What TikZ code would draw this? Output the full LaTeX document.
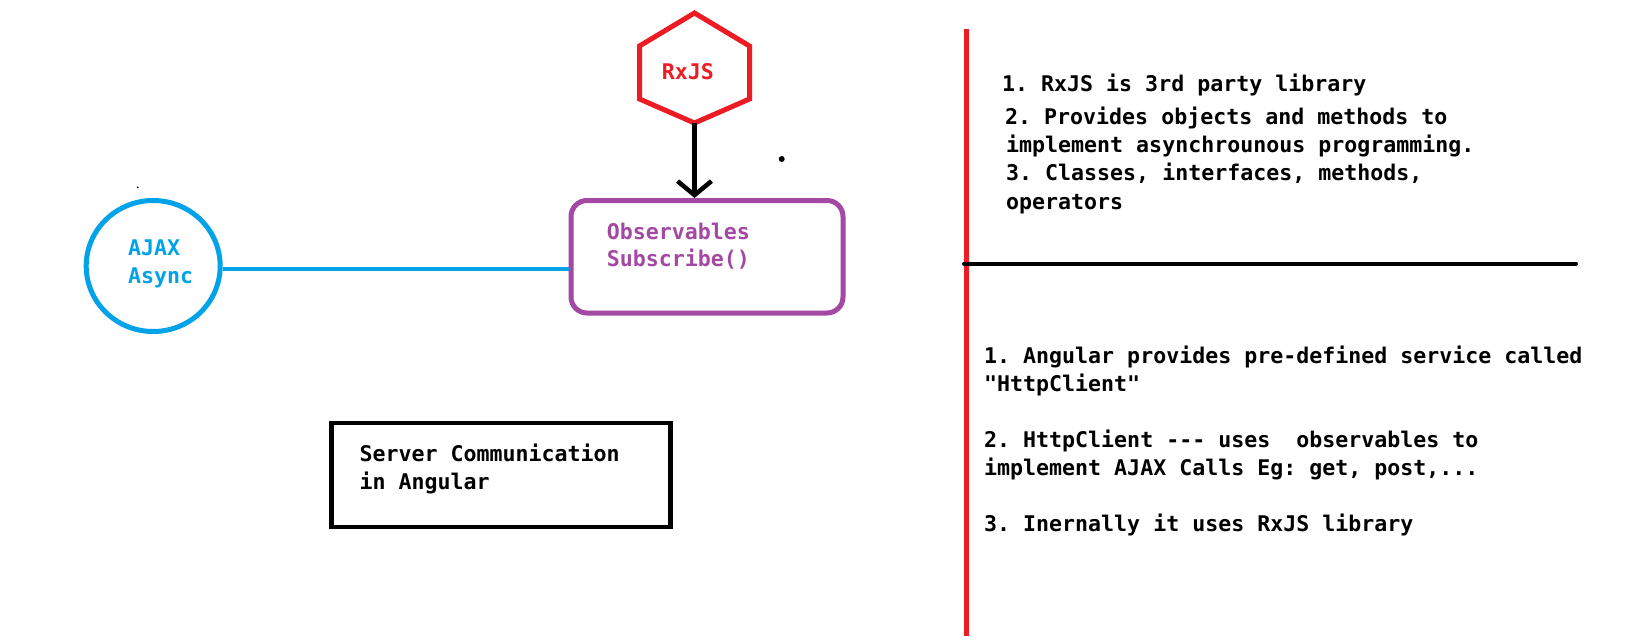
\documentclass[tikz,border=0pt]{standalone}
\usepackage{fontspec}
\newfontfamily\monof{DejaVu Sans Mono}
\usetikzlibrary{arrows.meta,shapes.geometric}
\definecolor{rxred}{RGB}{237,28,36}
\definecolor{ajaxblue}{RGB}{0,162,232}
\definecolor{obspurple}{RGB}{163,73,164}
\frenchspacing
\begin{document}
\begin{tikzpicture}[x=1pt,y=-1pt,
  txt/.style={anchor=base west, inner sep=0pt, font=\monof\bfseries\fontsize{21.6}{28}\selectfont},
  hexline/.style={draw=rxred, line width=5pt, line join=miter},
  ajaxshape/.style={ellipse, draw=ajaxblue, line width=5pt, inner sep=0pt},
  obsbox/.style={draw=obspurple, line width=5pt, rounded corners=16pt, inner sep=0pt},
  srvbox/.style={draw=black, line width=4.5pt, inner sep=0pt},
  link/.style={ajaxblue, line width=4.5pt},
  arrowline/.style={black, line width=4.5pt, -{Straight Barb[length=14pt,width=34pt]}},
  divred/.style={rxred, line width=5pt},
  divblack/.style={black, line width=4pt, line cap=round}]
\useasboundingbox[fill=white] (0,0) rectangle (1630,642);

% hexagon
\draw[hexline] (694.5,13) -- (749.5,46) -- (749.5,99) -- (694.5,123) coordinate (hexb)
  -- (639.5,99) -- (639.5,46) -- cycle;
\node[txt, text=rxred] (rxt) at (661.7,80) {RxJS};

% observables box
\node[obsbox, minimum width=272pt, minimum height=112.5pt] (obs) at (707,256.75) {};
\node[txt, text=obspurple] (o1) at (606.7,239.3) {Observables};
\node[txt, text=obspurple] (o2) at (606.7,266.7) {Subscribe()};

% arrow
\draw[arrowline] (hexb) -- (obs.north -| hexb);

% ajax ellipse
\node[ajaxshape, minimum width=134pt, minimum height=131pt] (ajax) at (153.2,266) {};
\node[txt, text=ajaxblue] (a1) at (128,255) {AJAX};
\node[txt, text=ajaxblue] (a2) at (128,283.3) {Async};
\coordinate (ly) at (0,269);
\draw[link] (ajax.east |- ly) -- (obs.west |- ly);

% server box
\node[srvbox, minimum width=338.8pt, minimum height=104pt] (srv) at (501.1,475) {};
\node[txt] (s1) at (359.3,461) {Server Communication};
\node[txt] (s2) at (359.3,489.3) {in Angular};

% dots
\fill (781.7,159) circle (3pt);
\fill (137.7,187.3) circle (1pt);

% dividers
\coordinate (rt) at (966.5,29);
\coordinate (rb) at (966.5,636);
\draw[divred] (rt) -- (rb);
\coordinate (bl) at (964,263.5);
\coordinate (br) at (1576,263.5);
\draw[divblack] (bl) -- (br);

% upper text
\node[txt] (u1) at (1002,91.5) {1. RxJS is 3rd party library};
\node[txt] (u2) at (1005,124) {2. Provides objects and methods to};
\node[txt] (u3) at (1006,152) {implement asynchrounous programming.};
\node[txt] (u4) at (1006,180.5) {3. Classes, interfaces, methods,};
\node[txt] (u5) at (1006,209) {operators};

% lower text
\node[txt] (l1) at (984,363) {1. Angular provides pre-defined service called};
\node[txt] (l2) at (984,391) {"HttpClient"};
\node[txt] (l3) at (984,447) {2. HttpClient -{}-{}- uses\ \ observables to};
\node[txt] (l4) at (984,475) {implement AJAX Calls Eg: get, post,...};
\node[txt] (l5) at (984,531) {3. Inernally it uses RxJS library};
\end{tikzpicture}
\end{document}
